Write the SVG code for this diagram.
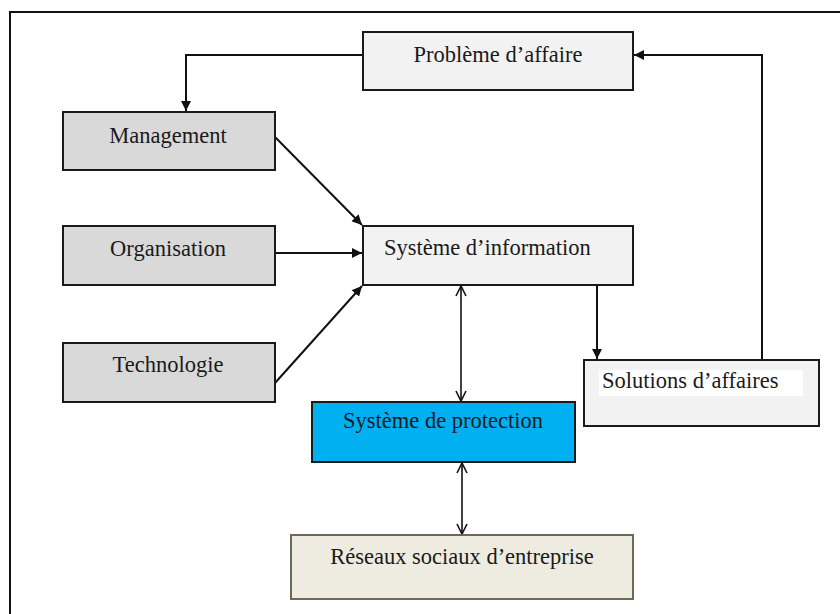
<svg xmlns="http://www.w3.org/2000/svg" width="840" height="614" viewBox="0 0 840 614">
  <style>
    .box { stroke: #1a1a1a; stroke-width: 2; }
    .light { fill: #F2F2F2; }
    .grey { fill: #D9D9D9; }
    .blue { fill: #00B0F0; }
    .tan { fill: #EEECE1; stroke: #6B6A55; }
    .lbl { font-size: 22.5px; fill: #1a1a1a; }
    .mid { text-anchor: middle; }
    .con { fill: none; stroke: #111; stroke-width: 2; }
    .dbl { fill: none; stroke: #111; stroke-width: 1.6; }
  </style>
  <defs>
    <marker id="tri" viewBox="0 0 10 10" refX="10" refY="5" markerWidth="10" markerHeight="10" markerUnits="userSpaceOnUse" orient="auto">
      <path d="M0,0 L10,5 L0,10 Z" fill="#111"/>
    </marker>
    <marker id="open" viewBox="0 0 12 12" refX="11" refY="6" markerWidth="12" markerHeight="12" markerUnits="userSpaceOnUse" orient="auto-start-reverse">
      <path d="M1,1 L11,6 L1,11" fill="none" stroke="#111" stroke-width="1.6"/>
    </marker>
  </defs>
  <rect x="0" y="0" width="840" height="614" fill="#ffffff"/>
  <rect x="10" y="12" width="840" height="620" fill="none" stroke="#111" stroke-width="2"/>

  <g id="connectors">
    <path class="con" d="M363,55 H186 V111" marker-end="url(#tri)"/>
    <path class="con" d="M275,137 L362,225" marker-end="url(#tri)"/>
    <path class="con" d="M275,253 H362" marker-end="url(#tri)"/>
    <path class="con" d="M275,383 L362,286" marker-end="url(#tri)"/>
    <path class="con" d="M597,285 V359" marker-end="url(#tri)"/>
    <path class="con" d="M762,360 V55 H634" marker-end="url(#tri)"/>
    <path class="dbl" d="M461,286 V401" marker-start="url(#open)" marker-end="url(#open)"/>
    <path class="dbl" d="M462,463 V534" marker-start="url(#open)" marker-end="url(#open)"/>
  </g>

  <g font-family="'Liberation Serif', 'Times New Roman', 'DejaVu Serif', serif">
  <g id="probleme">
    <rect class="box light" x="363" y="32" width="270" height="58"/>
    <text class="lbl mid" x="498" y="62">Problème d’affaire</text>
  </g>
  <g id="management">
    <rect class="box grey" x="63" y="112" width="212" height="58"/>
    <text class="lbl mid" x="168" y="143">Management</text>
  </g>
  <g id="organisation">
    <rect class="box grey" x="63" y="226" width="212" height="59"/>
    <text class="lbl mid" x="168" y="256">Organisation</text>
  </g>
  <g id="technologie">
    <rect class="box grey" x="63" y="343" width="212" height="59"/>
    <text class="lbl mid" x="168" y="372">Technologie</text>
  </g>
  <g id="systeme-information">
    <rect class="box light" x="363" y="226" width="270" height="59"/>
    <text class="lbl" x="384" y="255">Système d’information</text>
  </g>
  <g id="solutions">
    <rect class="box light" x="584" y="360" width="235" height="66"/>
    <rect x="599" y="370" width="204" height="26" fill="#ffffff"/>
    <text class="lbl" x="602" y="388">Solutions d’affaires</text>
  </g>
  <g id="protection">
    <rect class="box blue" x="312" y="402" width="263" height="60"/>
    <text class="lbl mid" x="443" y="428">Système de protection</text>
  </g>
  <g id="reseaux">
    <rect class="box tan" x="291" y="535" width="342" height="64"/>
    <text class="lbl mid" x="462" y="564">Réseaux sociaux d’entreprise</text>
  </g>
  </g>
</svg>
